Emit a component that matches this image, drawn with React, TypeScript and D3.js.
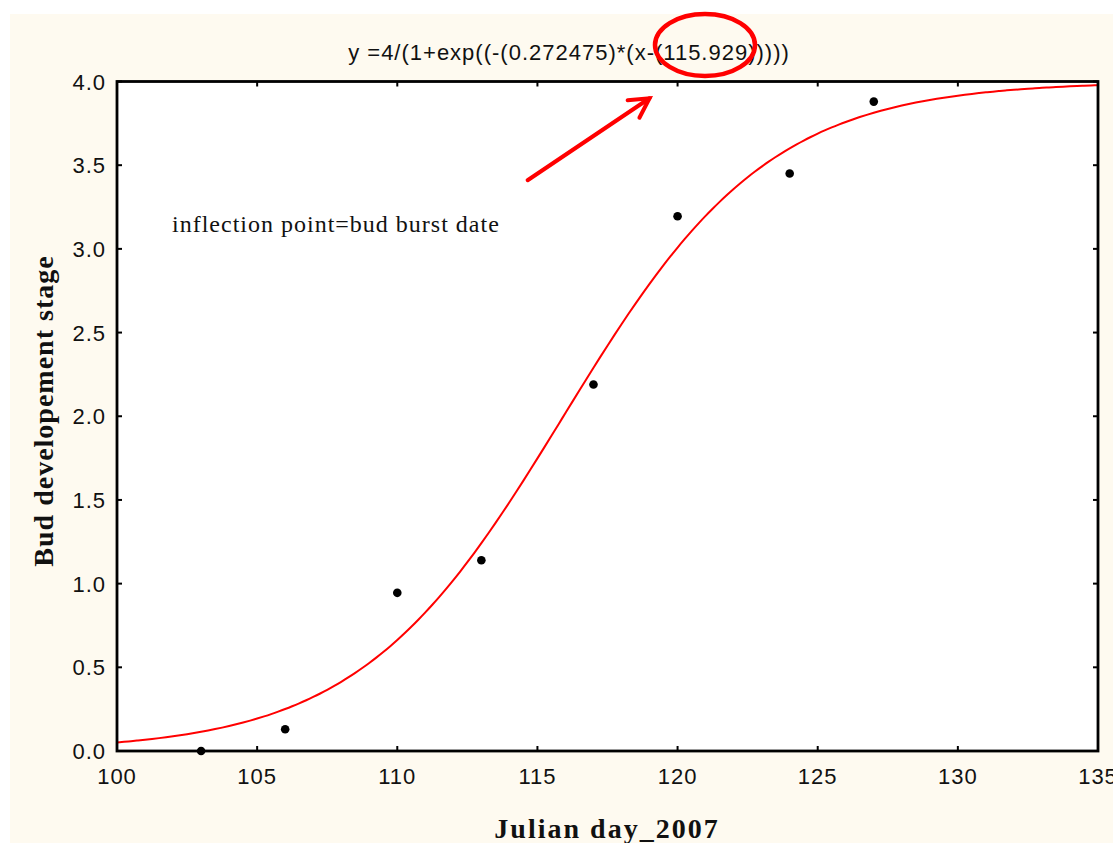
import React from "react";
import * as d3 from "d3";

const xTicks = [100, 105, 110, 115, 120, 125, 130, 135];
const yTicks = [0, 0.5, 1, 1.5, 2, 2.5, 3, 3.5, 4];
const dayValues = [103, 106, 110, 113, 117, 120, 124, 127];
const stageValues = [0.0, 0.13, 0.945, 1.14, 2.19, 3.195, 3.45, 3.88];
// fitted model parameters as printed in the chart title
const fitA = 4;
const fitK = 0.272475;
const fitX0 = 115.929;
const titleText = "y =4/(1+exp((-(0.272475)*(x-(115.929)))))";
const noteText = "inflection point=bud burst date";
const xLabel = "Julian day_2007";
const yLabel = "Bud developement stage";
const arrowFrom = [114.65, 3.41];
const arrowTo = [119.0, 3.9];

const W = 1113;
const H = 843;
const L = 117;
const R = 1098;
const T = 81.5;
const B = 751;

export default function App() {
  const x = d3.scaleLinear().domain([100, 135]).range([L, R]);
  const y = d3.scaleLinear().domain([0, 4]).range([B, T]);
  const fx = d3.range(100, 135.001, 0.25);
  const line = d3
    .line<number>()
    .x((d) => x(d))
    .y((d) => y(fitA / (1 + Math.exp(-fitK * (d - fitX0)))))
    .curve(d3.curveMonotoneX);

  const ax0 = x(arrowFrom[0]);
  const ay0 = y(arrowFrom[1]);
  const ax1 = x(arrowTo[0]);
  const ay1 = y(arrowTo[1]);
  const ang = Math.atan2(ay1 - ay0, ax1 - ax0);
  const hl = 22;
  const h1 = [ax1 - hl * Math.cos(ang - 0.5), ay1 - hl * Math.sin(ang - 0.5)];
  const h2 = [ax1 - hl * Math.cos(ang + 0.5), ay1 - hl * Math.sin(ang + 0.5)];

  const sans = "'Liberation Sans', Arial, sans-serif";
  const serif = "'Liberation Serif', 'Times New Roman', serif";

  return (
    <svg
      width={W}
      height={H}
      style={{ position: "absolute", left: 0, top: 0, display: "block" }}
    >
      <rect x={0} y={0} width={W} height={H} fill="#ffffff" />
      <rect x={10} y={14} width={W - 10} height={H - 14} fill="#fefaf0" />
      <rect x={L} y={T} width={R - L} height={B - T} fill="#ffffff" />

      <text
        x={569}
        y={60}
        textAnchor="middle"
        fontFamily={sans}
        fontSize={22}
        letterSpacing={1}
        fill="#111"
      >
        {titleText}
      </text>

      <clipPath id="plotclip">
        <rect x={L} y={T} width={R - L} height={B - T} />
      </clipPath>
      <path
        d={line(fx) || ""}
        fill="none"
        stroke="#ff0000"
        strokeWidth={2}
        clipPath="url(#plotclip)"
      />

      {dayValues.map((d, i) => (
        <circle key={i} cx={x(d)} cy={y(stageValues[i])} r={4.3} fill="#000" />
      ))}

      {/* ticks */}
      {xTicks.map((t) => (
        <g key={"xt" + t}>
          <line x1={x(t)} x2={x(t)} y1={B} y2={B - 5} stroke="#000" strokeWidth={2} />
          <line x1={x(t)} x2={x(t)} y1={T} y2={T + 5} stroke="#000" strokeWidth={2} />
          <text
            x={x(t)}
            y={784}
            textAnchor="middle"
            fontFamily={sans}
            fontSize={22}
            letterSpacing={1}
            fill="#111"
          >
            {t}
          </text>
        </g>
      ))}
      {yTicks.map((t) => (
        <g key={"yt" + t}>
          <line x1={L} x2={L + 5} y1={y(t)} y2={y(t)} stroke="#000" strokeWidth={2} />
          <line x1={R} x2={R - 5} y1={y(t)} y2={y(t)} stroke="#000" strokeWidth={2} />
          <text
            x={106}
            y={y(t) + 8}
            textAnchor="end"
            fontFamily={sans}
            fontSize={22}
            letterSpacing={1}
            fill="#111"
          >
            {t.toFixed(1)}
          </text>
        </g>
      ))}

      <rect
        x={L}
        y={T}
        width={R - L}
        height={B - T}
        fill="none"
        stroke="#000"
        strokeWidth={2.8}
      />

      {/* annotations */}
      <ellipse
        cx={705}
        cy={45}
        rx={50}
        ry={31}
        fill="none"
        stroke="#ff0000"
        strokeWidth={4.5}
      />
      <g stroke="#ff0000" strokeWidth={4} strokeLinecap="round" fill="none">
        <line x1={ax0} y1={ay0} x2={ax1} y2={ay1} />
        <polyline points={`${h1[0]},${h1[1]} ${ax1},${ay1} ${h2[0]},${h2[1]}`} />
      </g>

      <text
        x={172}
        y={232}
        fontFamily={serif}
        fontSize={24}
        letterSpacing={1}
        fill="#111"
      >
        {noteText}
      </text>

      <text
        x={607}
        y={838}
        textAnchor="middle"
        fontFamily={serif}
        fontWeight="bold"
        fontSize={28}
        letterSpacing={2}
        fill="#111"
      >
        {xLabel}
      </text>
      <text
        transform={`translate(53, ${411}) rotate(-90)`}
        textAnchor="middle"
        fontFamily={serif}
        fontWeight="bold"
        fontSize={28}
        letterSpacing={1}
        fill="#111"
      >
        {yLabel}
      </text>
    </svg>
  );
}
